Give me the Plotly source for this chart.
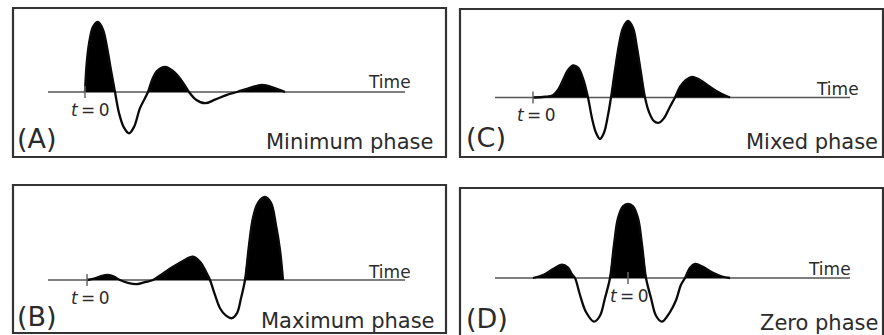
import plotly.graph_objects as go

W, H = 884, 335

# ---------------- data (time in ms relative to t=0, amplitude normalised to main peak) -------------
A_time = [0, 2, 5, 8, 13, 18, 22, 26, 30, 34, 39, 44, 49, 55, 63, 67, 72, 80, 87, 94, 100, 104,
          111, 120, 130, 142, 152, 165, 177, 189, 200]
A_amp = [0, 0.46, 0.77, 0.93, 1.0, 0.89, 0.64, 0.31, 0, -0.30, -0.51, -0.59, -0.50, -0.23, 0, 0.17,
         0.30, 0.36, 0.31, 0.21, 0.09, 0, -0.11, -0.16, -0.11, -0.04, 0, 0.06, 0.10, 0.06, 0]

B_time = [0, 8, 15, 21, 27, 33, 41, 50, 58, 66, 76, 86, 96, 106, 113, 119, 123, 128, 133, 139, 145,
          150, 154, 158, 162, 166, 171, 178, 184, 189, 193, 196]
B_amp = [0, 0.02, 0.05, 0.06, 0.04, 0, -0.035, -0.05, -0.025, 0, 0.08, 0.16, 0.23, 0.28, 0.22, 0.10,
         0, -0.18, -0.34, -0.43, -0.46, -0.40, -0.22, 0, 0.42, 0.75, 0.93, 1.0, 0.93, 0.66, 0.36, 0]

C_time = [0, 12, 20, 25, 30, 35, 40, 45, 50, 55, 59, 63, 67, 71, 75, 78, 82, 86, 90, 95, 100, 104,
          108, 112, 116, 121, 126, 131, 137, 142, 147, 153, 159, 167, 177, 187, 197]
C_amp = [0, 0.01, 0.03, 0.10, 0.23, 0.36, 0.42, 0.39, 0.25, 0, -0.27, -0.46, -0.54, -0.46, -0.23, 0,
         0.36, 0.69, 0.91, 1.0, 0.91, 0.65, 0.32, 0, -0.19, -0.31, -0.33, -0.27, -0.12, 0, 0.14,
         0.23, 0.27, 0.23, 0.14, 0.06, 0]

D_time = [-95, -85, -75, -66, -60, -56, -53, -48, -42, -34, -28, -23, -18, -14, -10, -5, 0, 5, 10,
          14, 18, 23, 28, 34, 42, 48, 53, 57, 62, 67, 75, 85, 94, 102]
D_amp = [0, 0.04, 0.12, 0.18, 0.14, 0.05, 0, -0.23, -0.46, -0.59, -0.51, -0.27, 0, 0.45, 0.81, 0.97,
         1.0, 0.97, 0.81, 0.45, 0, -0.27, -0.51, -0.59, -0.46, -0.30, -0.09, 0, 0.14, 0.19, 0.15,
         0.07, 0.02, 0]

panel_letters = ["(A)", "(B)", "(C)", "(D)"]
phase_names = ["Minimum phase", "Maximum phase", "Mixed phase", "Zero phase"]
axis_title = "Time"
t0_text = "<i>t</i>\u2009=\u20090"

# ---------------- layout geometry (pixels) ----------------
panels = [
    dict(time=A_time, amp=A_amp, box=(13, 8, 446, 157), t0_px=85, base_py=92, amp_px=70,
         base_x=(48, 405), letter=(15, 139), phase=(435, 142), time_lbl=(389, 82), t0_lbl=(90, 110)),
    dict(time=B_time, amp=B_amp, box=(13, 185, 446, 333), t0_px=87, base_py=280, amp_px=83,
         base_x=(48, 405), letter=(15, 316.5), phase=(437, 320.5), time_lbl=(389, 271.5), t0_lbl=(90, 298)),
    dict(time=C_time, amp=C_amp, box=(460, 9, 883, 157), t0_px=533, base_py=97.5, amp_px=76.5,
         base_x=(495, 850), letter=(464, 137.5), phase=(880, 142), time_lbl=(837, 88.5), t0_lbl=(536, 115)),
    dict(time=D_time, amp=D_amp, box=(460, 188, 883, 338), t0_px=628, base_py=278, amp_px=74,
         base_x=(495, 850), letter=(464, 318.5), phase=(880, 322.5), time_lbl=(829, 268.5), t0_lbl=(629, 296)),
]

FONT = "DejaVu Sans"
TXT = "#2b2b2b"


def px(x):
    return x / W


def py(y):
    return 1 - y / H


def positive_lobes(t, a):
    xs, ys = [], []
    seg = []
    has_pos = False
    for ti, ai in zip(t, a):
        if ai == 0:
            if seg and has_pos:
                seg.append((ti, 0))
                xs += [p[0] for p in seg] + [None]
                ys += [p[1] for p in seg] + [None]
            seg = [(ti, 0)]
            has_pos = False
        elif ai > 0:
            seg.append((ti, ai))
            has_pos = True
        else:
            seg = []
            has_pos = False
    return xs, ys


fig = go.Figure()
shapes, annotations = [], []
layout_axes = {}

for i, p in enumerate(panels):
    l, t, r, b = p["box"]
    xa = "x" if i == 0 else f"x{i+1}"
    ya = "y" if i == 0 else f"y{i+1}"
    xk = "xaxis" if i == 0 else f"xaxis{i+1}"
    yk = "yaxis" if i == 0 else f"yaxis{i+1}"
    bb = min(b, H)
    layout_axes[xk] = dict(domain=[px(l), px(r)], range=[l - p["t0_px"], r - p["t0_px"]],
                           visible=False, fixedrange=True, anchor=ya)
    layout_axes[yk] = dict(domain=[py(bb), py(t)],
                           range=[(p["base_py"] - bb) / p["amp_px"], (p["base_py"] - t) / p["amp_px"]],
                           visible=False, fixedrange=True, anchor=xa)

    lx, ly = positive_lobes(p["time"], p["amp"])
    fig.add_trace(go.Scatter(x=lx, y=ly, xaxis=xa, yaxis=ya, mode="lines", fill="toself",
                             fillcolor="#000000", line=dict(color="#000000", width=1, shape="spline"),
                             hoverinfo="skip", showlegend=False))
    fig.add_trace(go.Scatter(x=p["time"], y=p["amp"], xaxis=xa, yaxis=ya, mode="lines",
                             line=dict(color="#0a0a0a", width=2.3, shape="spline", smoothing=1.0),
                             hoverinfo="skip", showlegend=False))

    # frame
    shapes.append(dict(type="rect", xref="paper", yref="paper", x0=px(l), x1=px(r), y0=py(b), y1=py(t),
                       line=dict(color="#333333", width=2.2), layer="above"))
    # time axis line
    shapes.append(dict(type="line", xref=xa, yref=ya, x0=p["base_x"][0] - p["t0_px"],
                       x1=p["base_x"][1] - p["t0_px"], y0=0, y1=0,
                       line=dict(color="#555555", width=1.6), layer="below"))
    # t = 0 tick
    shapes.append(dict(type="line", xref=xa, yref=ya, x0=0, x1=0, y0=-6 / p["amp_px"], y1=6 / p["amp_px"],
                       line=dict(color="#666666", width=1.5), layer="above"))

    annotations.append(dict(text=panel_letters[i], xref="paper", yref="paper", x=px(p["letter"][0]),
                            y=py(p["letter"][1]), xanchor="left", yanchor="middle", showarrow=False,
                            font=dict(family=FONT, size=27, color=TXT)))
    annotations.append(dict(text=phase_names[i], xref="paper", yref="paper", x=px(p["phase"][0]),
                            y=py(p["phase"][1]), xanchor="right", yanchor="middle", showarrow=False,
                            font=dict(family=FONT, size=21, color=TXT)))
    annotations.append(dict(text=axis_title, xref="paper", yref="paper", x=px(p["time_lbl"][0]),
                            y=py(p["time_lbl"][1]), xanchor="center", yanchor="middle", showarrow=False,
                            font=dict(family=FONT, size=17, color=TXT)))
    annotations.append(dict(text=t0_text, xref="paper", yref="paper", x=px(p["t0_lbl"][0]),
                            y=py(p["t0_lbl"][1]), xanchor="center", yanchor="middle", showarrow=False,
                            font=dict(family=FONT, size=17, color=TXT)))

fig.update_layout(width=W, height=H, margin=dict(l=0, r=0, t=0, b=0),
                  paper_bgcolor="white", plot_bgcolor="rgba(0,0,0,0)",
                  shapes=shapes, annotations=annotations, showlegend=False, **layout_axes)

fig.write_html("out.html", config=dict(displayModeBar=False),
               post_script=["document.body.style.margin='0';document.body.style.overflow='hidden';"])
